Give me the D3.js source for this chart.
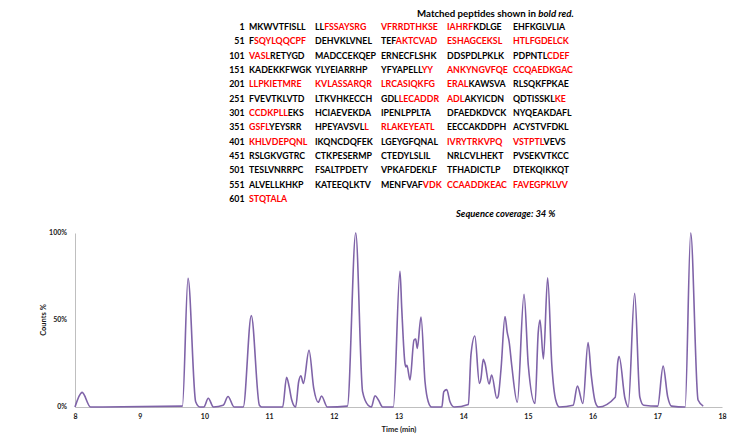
<!DOCTYPE html>
<html>
<head>
<meta charset="utf-8">
<script src="https://cdn.jsdelivr.net/npm/d3@7"></script>
<style>
  body { margin: 0; background: #fff; }
  text { font-family: Lato, "Liberation Sans", sans-serif; font-weight: bold; }
</style>
</head>
<body>
<svg class="chart"></svg>
<script>
//======
// Data
//======

// protein sequence, 50 residues per row
var sequence =
  "MKWVTFISLLLLFSSAYSRGVFRRDTHKSEIAHRFKDLGEEHFKGLVLIA" +
  "FSQYLQQCPFDEHVKLVNELTEFAKTCVADESHAGCEKSLHTLFGDELCK" +
  "VASLRETYGDMADCCEKQEPERNECFLSHKDDSPDLPKLKPDPNTLCDEF" +
  "KADEKKFWGKYLYEIARRHPYFYAPELLYYANKYNGVFQECCQAEDKGAC" +
  "LLPKIETMREKVLASSARQRLRCASIQKFGERALKAWSVARLSQKFPKAE" +
  "FVEVTKLVTDLTKVHKECCHGDLLECADDRADLAKYICDNQDTISSKLKE" +
  "CCDKPLLEKSHCIAEVEKDAIPENLPPLTADFAEDKDVCKNYQEAKDAFL" +
  "GSFLYEYSRRHPEYAVSVLLRLAKEYEATLEECCAKDDPHACYSTVFDKL" +
  "KHLVDEPQNLIKQNCDQFEKLGEYGFQNALIVRYTRKVPQVSTPTLVEVS" +
  "RSLGKVGTRCCTKPESERMPCTEDYLSLILNRLCVLHEKTPVSEKVTKCC" +
  "TESLVNRRPCFSALTPDETYVPKAFDEKLFTFHADICTLPDTEKQIKKQT" +
  "ALVELLKHKPKATEEQLKTVMENFVAFVDKCCAADDKEACFAVEGPKLVV" +
  "STQTALA";

// matched peptide ranges (residue numbers, inclusive)
var matched = [
  [13, 35], [52, 60], [74, 104], [147, 150], [179, 234], [274, 283],
  [299, 307], [351, 354], [370, 380], [401, 410], [431, 446], [578, 607]
];

var coverage = 34;

// chromatogram: retention time (min) and counts (%)
var times = [
  8.00, 8.11, 8.24, 9.66, 9.747, 9.865, 9.93, 9.99, 10.06, 10.14,
  10.29, 10.365, 10.46, 10.60, 10.725, 10.85, 10.885, 11.21, 11.27, 11.31,
  11.35, 11.41, 11.457, 11.49, 11.53, 11.617, 11.69, 11.76, 11.81, 11.90,
  12.21, 12.339, 12.445, 12.53, 12.58, 12.637, 12.69, 12.756, 12.92, 13.023,
  13.05, 13.10, 13.116, 13.13, 13.178, 13.24, 13.266, 13.29, 13.348, 13.41,
  13.46, 13.51, 13.67, 13.70, 13.745, 13.796, 13.86, 14.08, 14.12, 14.18,
  14.25, 14.275, 14.31, 14.337, 14.40, 14.44, 14.52, 14.54, 14.585, 14.646,
  14.68, 14.71, 14.75, 14.836, 14.94, 15.006, 15.11, 15.16, 15.187, 15.24,
  15.305, 15.37, 15.43, 15.486, 15.70, 15.765, 15.85, 15.93, 15.98, 16.04,
  16.09, 16.35, 16.39, 16.41, 16.50, 16.55, 16.65, 16.73, 16.79, 17.006,
  17.09, 17.16, 17.22, 17.43, 17.516, 17.63, 17.71
];
var counts = [
  0, 8.4, 0, 0.5, 74, 3, 0, 0, 5, 0,
  1, 6, 0, 0, 52.5, 1, 0, 0, 17, 11.7,
  4, 0, 14.5, 18, 13.6, 32.6, 10.7, 2.7, 6.3, 0,
  0.5, 100, 8.8, 1, 0, 6.5, 4, 0, 0, 78,
  56.7, 25, 23, 24, 15.5, 38.5, 39, 33.7, 51.7, 14.5,
  3, 0, 0, 8.8, 10, 3, 0, 1.5, 30, 40.8,
  13.6, 16.5, 27.4, 25, 13.2, 18.4, 5, 6, 22, 52,
  43, 37.5, 24, 2.7, 64.7, 24, 2, 43, 50, 27.6,
  74.3, 24, 4, 0, 1, 12, 2, 37, 18, 3,
  0, 5.6, 26, 29, 5, 0, 65.3, 5.7, 1, 0.5,
  23.5, 6, 0.5, 0, 100, 4, 0.5
];

var xTicks = [8, 9, 10, 11, 12, 13, 14, 15, 16, 17, 18];
var yTicks = [0, 50, 100];

//=======
// Setup
//=======

var width = 745,
  height = 434,
  red = "#ff0000",
  ink = "#000",
  purple = "#7f63a8",
  axisGray = "#bfbfbf";

var svg = d3.select(".chart")
  .attr("width", width)
  .attr("height", height);

//=================
// Sequence block
//=================

function isMatched(pos) {
  return matched.some(function(r) { return pos >= r[0] && pos <= r[1]; });
}

var nRows = Math.ceil(sequence.length / 50);
var rowScale = d3.scaleLinear().domain([0, nRows - 1]).range([30, 202]);
var colScale = d3.scaleLinear().domain([0, 4]).range([249, 513]);

svg.append("text")
  .attr("x", 417)
  .attr("y", 16.5)
  .attr("font-size", 9.7)
  .attr("fill", ink)
  .call(function(t) {
    t.append("tspan").text("Matched peptides shown in ");
    t.append("tspan").attr("font-style", "italic").text("bold red.");
  });

d3.range(nRows).forEach(function(row) {
  var start = row * 50;

  svg.append("text")
    .attr("x", 244.5)
    .attr("y", rowScale(row))
    .attr("text-anchor", "end")
    .attr("font-size", 8.8)
    .attr("fill", ink)
    .text(start + 1);

  for (var b = 0; b < 5; b++) {
    var s = start + b * 10;
    if (s >= sequence.length) break;
    var block = sequence.substr(s, 10);

    // group consecutive residues with the same colour
    var runs = [];
    for (var i = 0; i < block.length; i++) {
      var m = isMatched(s + i + 1);
      if (runs.length && runs[runs.length - 1].m === m) {
        runs[runs.length - 1].txt += block[i];
      } else {
        runs.push({ m: m, txt: block[i] });
      }
    }

    svg.append("text")
      .attr("x", colScale(b))
      .attr("y", rowScale(row))
      .attr("font-size", 8.8)
      .selectAll("tspan")
      .data(runs)
      .enter()
      .append("tspan")
      .attr("fill", function(d) { return d.m ? red : ink; })
      .text(function(d) { return d.txt; });
  }
});

svg.append("text")
  .attr("x", 456)
  .attr("y", 217)
  .attr("font-size", 9.4)
  .attr("font-style", "italic")
  .attr("fill", ink)
  .text("Sequence coverage: " + coverage + " %");

//==============
// Chromatogram
//==============

var xScale = d3.scaleLinear().domain([8, 18]).range([75, 722]);
var yScale = d3.scaleLinear().domain([0, 100]).range([407, 233]);

var xAxis = svg.append("g")
  .attr("transform", "translate(0," + yScale(0) + ")")
  .call(d3.axisBottom(xScale).tickValues(xTicks).tickSize(0).tickPadding(7)
    .tickFormat(d3.format("d")));

var yAxis = svg.append("g")
  .attr("transform", "translate(" + xScale(8) + ",0)")
  .call(d3.axisLeft(yScale).tickValues(yTicks).tickSize(0).tickPadding(8)
    .tickFormat(function(d) { return d + "%"; }));

[xAxis, yAxis].forEach(function(ax) {
  ax.select(".domain").attr("stroke", axisGray).attr("stroke-width", 1);
  ax.selectAll("text")
    .attr("font-family", "Lato, 'Liberation Sans', sans-serif")
    .attr("font-weight", "bold")
    .attr("font-size", 7)
    .attr("fill", "#1a1a1a");
});
yAxis.selectAll("text").attr("dy", "0.2em");

svg.append("text")
  .attr("x", 399)
  .attr("y", 431.5)
  .attr("text-anchor", "middle")
  .attr("font-size", 7.5)
  .attr("fill", "#1a1a1a")
  .text("Time (min)");

svg.append("text")
  .attr("transform", "translate(45.5,320) rotate(-90)")
  .attr("text-anchor", "middle")
  .attr("font-size", 7.5)
  .attr("fill", "#1a1a1a")
  .text("Counts %");

var line = d3.line()
  .x(function(d, i) { return xScale(times[i]); })
  .y(function(d) { return yScale(d); })
  .curve(d3.curveMonotoneX);

svg.append("path")
  .datum(counts)
  .attr("d", line)
  .attr("fill", "none")
  .attr("stroke", purple)
  .attr("stroke-width", 1.6)
  .attr("stroke-linejoin", "round");
</script>
</body>
</html>
